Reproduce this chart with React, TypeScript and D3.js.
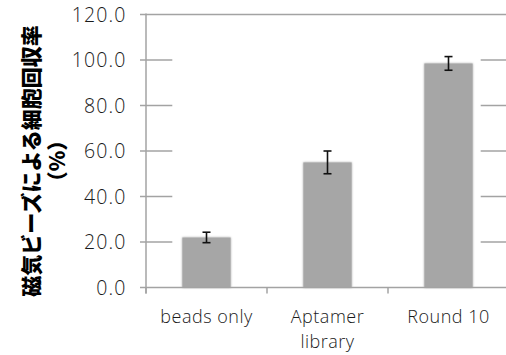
import * as d3 from "d3"

const categories = ["beads only", "Aptamer\nlibrary", "Round 10"]
const values = [22.0, 55.0, 98.5]
const errors = [2.3, 5.0, 3.0]
const yTicks = [0, 20, 40, 60, 80, 100, 120]

export default function App() {
    const width = 506
    const height = 355

    const x = d3.scaleBand<string>().domain(categories).range([146, 509]).paddingInner(0.6).paddingOuter(0.3)
    const y = d3.scaleLinear().domain([0, 120]).range([287.5, 14.5])

    const grid = "#a3a3a3"
    const step = x.step()
    const firstLeft = (x(categories[0]) ?? 0) - 10
    const lastRight = (x(categories[categories.length - 1]) ?? 0) + x.bandwidth() + 8

    return (
        <svg
            width={width}
            height={height}
            style={{ position: "absolute", left: 0, top: 0, background: "#fff" }}
            fontFamily="'Open Sans', 'Noto Sans', sans-serif"
        >
            <defs>
                <filter id="soft" x="-20%" y="-20%" width="140%" height="140%">
                    <feGaussianBlur in="SourceAlpha" stdDeviation="1.2" />
                    <feComponentTransfer>
                        <feFuncA type="linear" slope="0.35" />
                    </feComponentTransfer>
                    <feMerge>
                        <feMergeNode />
                        <feMergeNode in="SourceGraphic" />
                    </feMerge>
                </filter>
            </defs>

            {/* gridlines: only visible outside the bar area (except top) */}
            {yTicks.slice(1).map((t) =>
                t === 120 ? (
                    <line key={t} x1={140} x2={width} y1={y(t)} y2={y(t)} stroke={grid} strokeWidth={1.5} />
                ) : (
                    <g key={t}>
                        <line x1={140} x2={firstLeft} y1={y(t)} y2={y(t)} stroke={grid} strokeWidth={1.5} />
                        <line x1={lastRight} x2={width} y1={y(t)} y2={y(t)} stroke={grid} strokeWidth={1.5} />
                    </g>
                )
            )}
            <line x1={140} x2={146} y1={y(0)} y2={y(0)} stroke={grid} strokeWidth={1.5} />

            {/* y axis */}
            <line x1={146} x2={146} y1={y(120) - 1} y2={y(0) + 6} stroke={grid} strokeWidth={1.5} />
            {yTicks.map((t) => (
                <text key={t} x={126.5} y={y(t) + 7} textAnchor="end" fontSize={19.5} fontWeight={300} letterSpacing={1.1} fill="#1a1a1a">
                    {t.toFixed(1)}
                </text>
            ))}

            {/* bars */}
            {categories.map((c, i) => (
                <rect
                    key={c}
                    x={x(c)}
                    y={y(values[i])}
                    width={x.bandwidth()}
                    height={y(0) - y(values[i])}
                    fill="#a6a6a6"
                    filter="url(#soft)"
                />
            ))}

            {/* x axis */}
            <line x1={146} x2={width} y1={y(0)} y2={y(0)} stroke={grid} strokeWidth={1.5} />
            {d3.range(categories.length + 1).map((i) => (
                <line key={i} x1={146 + i * step} x2={146 + i * step} y1={y(0)} y2={y(0) + 6} stroke={grid} strokeWidth={1.5} />
            ))}

            {/* error bars */}
            {categories.map((c, i) => {
                const cx = (x(c) ?? 0) + x.bandwidth() / 2
                const top = y(values[i] + errors[i])
                const bot = y(values[i] - errors[i])
                return (
                    <g key={c} stroke="#111" strokeWidth={1.6}>
                        <line x1={cx} x2={cx} y1={top} y2={bot} />
                        <line x1={cx - 4} x2={cx + 4} y1={top} y2={top} />
                        <line x1={cx - 4} x2={cx + 4} y1={bot} y2={bot} />
                    </g>
                )
            })}

            {/* category labels */}
            {categories.map((c) => {
                const cx = (x(c) ?? 0) + x.bandwidth() / 2
                return (
                    <text key={c} x={cx} y={323} textAnchor="middle" fontSize={18} fontWeight={300} letterSpacing={0.5} fill="#1a1a1a">
                        {c.split("\n").map((l, j) => (
                            <tspan key={j} x={cx} dy={j === 0 ? 0 : 25}>
                                {l}
                            </tspan>
                        ))}
                    </text>
                )
            })}

            {/* y axis title */}
            <g transform="translate(32,161) rotate(-90)">
                <text
                    x={0}
                    y={7}
                    textAnchor="middle"
                    fontSize={21}
                    fontWeight={900}
                    fontFamily="'Noto Sans CJK JP', sans-serif"
                    fill="#000"
                >
                    磁気ビーズによる細胞回収率
                </text>
                <text
                    x={0}
                    y={33}
                    textAnchor="middle"
                    fontSize={21}
                    fontWeight={900}
                    fontFamily="'Noto Sans CJK JP', sans-serif"
                    fill="#000"
                >
                    （%）
                </text>
            </g>
        </svg>
    )
}
